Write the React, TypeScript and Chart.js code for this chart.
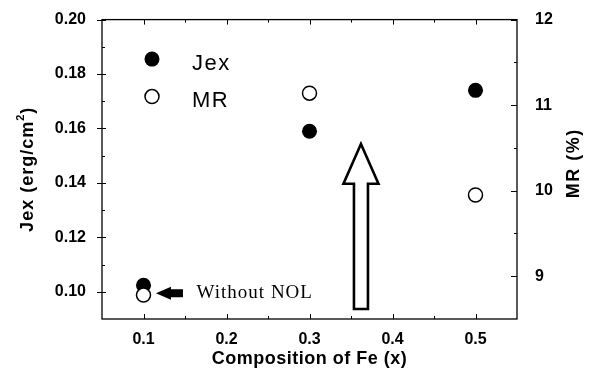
import React, { useEffect, useRef } from "react";
import { Chart, registerables } from "chart.js";

Chart.register(...registerables);

// ---- data ----
const compositionFe = [0.1, 0.3, 0.5];
const jexValues = [0.1024, 0.159, 0.174];
const mrValues = [8.78, 11.14, 9.95];

// ---- ticks ----
const xTickValues = [0.1, 0.2, 0.3, 0.4, 0.5];
const xMinorTickValues = [0.15, 0.25, 0.35, 0.45];
const jexTickValues = [0.1, 0.12, 0.14, 0.16, 0.18, 0.2];
const jexMinorTickValues = [0.11, 0.13, 0.15, 0.17, 0.19];
const mrTickValues = [9, 10, 11, 12];
const mrMinorTickValues = [9.5, 10.5, 11.5];

// ---- text ----
const seriesNames = ["Jex", "MR"];
const xAxisTitle = "Composition of Fe (x)";
const jexAxisTitle = ["Jex (erg/cm", "2", ")"];
const mrAxisTitle = "MR (%)";
const noteLabel = "Without NOL";

// ---- annotation anchors (data units: x = composition, y = Jex axis) ----
const noteArrowTip = { x: 0.115, y: 0.0995 };
const noteTextStart = { x: 0.164, y: 0.0995 };
const bigArrow = { x: 0.362, tip: 0.1543, headBase: 0.1397, tail: 0.0937 };

const SANS = "'Liberation Sans', Arial, sans-serif";
const SERIF = "'Liberation Serif', 'Times New Roman', serif";

const decorPlugin = {
  id: "decor",
  afterDraw(chart: any) {
    const { ctx, chartArea: a, scales } = chart;
    const xs = scales.x;
    const ys = scales.y;
    const ys1 = scales.y1;
    ctx.save();

    // frame
    ctx.strokeStyle = "#000";
    ctx.lineWidth = 1.3;
    ctx.strokeRect(a.left, a.top, a.right - a.left, a.bottom - a.top);

    // tick marks
    ctx.lineWidth = 1;
    ctx.beginPath();
    for (const v of xTickValues) {
      const p = Math.round(xs.getPixelForValue(v)) + 0.5;
      ctx.moveTo(p, a.bottom); ctx.lineTo(p, a.bottom - 5);
      ctx.moveTo(p, a.top); ctx.lineTo(p, a.top + 5);
    }
    for (const v of xMinorTickValues) {
      const p = Math.round(xs.getPixelForValue(v)) + 0.5;
      ctx.moveTo(p, a.bottom); ctx.lineTo(p, a.bottom - 3);
      ctx.moveTo(p, a.top); ctx.lineTo(p, a.top + 3);
    }
    for (const v of jexTickValues) {
      const p = Math.round(ys.getPixelForValue(v)) + 0.5;
      ctx.moveTo(a.left - 5, p); ctx.lineTo(a.left + 4, p);
    }
    for (const v of jexMinorTickValues) {
      const p = Math.round(ys.getPixelForValue(v)) + 0.5;
      ctx.moveTo(a.left, p); ctx.lineTo(a.left + 3, p);
    }
    for (const v of mrTickValues) {
      const p = Math.round(ys1.getPixelForValue(v)) + 0.5;
      ctx.moveTo(a.right - 6, p); ctx.lineTo(a.right, p);
    }
    for (const v of mrMinorTickValues) {
      const p = Math.round(ys1.getPixelForValue(v)) + 0.5;
      ctx.moveTo(a.right - 3, p); ctx.lineTo(a.right, p);
    }
    ctx.stroke();

    ctx.fillStyle = "#000";
    const cy = (a.top + a.bottom) / 2;

    // x axis title
    ctx.font = `bold 18px ${SANS}`;
    (ctx as any).letterSpacing = "0.5px";
    ctx.textAlign = "center";
    ctx.textBaseline = "alphabetic";
    ctx.fillText(xAxisTitle, (a.left + a.right) / 2, 364);

    // left axis title with superscript
    ctx.save();
    ctx.translate(28, cy);
    ctx.rotate(-Math.PI / 2);
    (ctx as any).letterSpacing = "1px";
    ctx.textAlign = "left";
    ctx.textBaseline = "middle";
    const mainFont = `bold 18px ${SANS}`;
    const supFont = `bold 11px ${SANS}`;
    ctx.font = mainFont;
    const w0 = ctx.measureText(jexAxisTitle[0]).width;
    const w2 = ctx.measureText(jexAxisTitle[2]).width;
    ctx.font = supFont;
    const w1 = ctx.measureText(jexAxisTitle[1]).width;
    let sx = -(w0 + w1 + w2) / 2;
    ctx.font = mainFont;
    ctx.fillText(jexAxisTitle[0], sx, 0);
    sx += w0;
    ctx.font = supFont;
    ctx.fillText(jexAxisTitle[1], sx, -7);
    sx += w1;
    ctx.font = mainFont;
    ctx.fillText(jexAxisTitle[2], sx, 0);
    ctx.restore();

    // right axis title
    ctx.save();
    ctx.translate(574, cy - 6);
    ctx.rotate(-Math.PI / 2);
    (ctx as any).letterSpacing = "1.5px";
    ctx.font = `bold 18px ${SANS}`;
    ctx.textAlign = "center";
    ctx.textBaseline = "middle";
    ctx.fillText(mrAxisTitle, 0, 0);
    ctx.restore();

    // legend
    const lx = a.left + 50;
    const ly = [a.top + 39.5, a.top + 77];
    ctx.beginPath();
    ctx.arc(lx, ly[0], 7.5, 0, Math.PI * 2);
    ctx.fillStyle = "#000";
    ctx.fill();
    ctx.beginPath();
    ctx.arc(lx, ly[1], 7, 0, Math.PI * 2);
    ctx.fillStyle = "#fff";
    ctx.fill();
    ctx.lineWidth = 1.5;
    ctx.strokeStyle = "#000";
    ctx.stroke();
    ctx.fillStyle = "#000";
    ctx.font = `22px ${SANS}`;
    (ctx as any).letterSpacing = "1.5px";
    ctx.textAlign = "left";
    ctx.textBaseline = "alphabetic";
    ctx.fillText(seriesNames[0], a.left + 90, ly[0] + 10.5);
    ctx.fillText(seriesNames[1], a.left + 90, ly[1] + 10);

    // small filled arrow + note
    const tx = xs.getPixelForValue(noteArrowTip.x);
    const ty = ys.getPixelForValue(noteArrowTip.y);
    ctx.beginPath();
    ctx.moveTo(tx, ty);
    ctx.lineTo(tx + 15, ty - 6.5);
    ctx.lineTo(tx + 15, ty - 4);
    ctx.lineTo(tx + 27, ty - 4);
    ctx.lineTo(tx + 27, ty + 4);
    ctx.lineTo(tx + 15, ty + 4);
    ctx.lineTo(tx + 15, ty + 6.5);
    ctx.closePath();
    ctx.fillStyle = "#000";
    ctx.fill();

    ctx.font = `19px ${SERIF}`;
    (ctx as any).letterSpacing = "1px";
    ctx.textAlign = "left";
    ctx.textBaseline = "alphabetic";
    ctx.fillText(noteLabel, xs.getPixelForValue(noteTextStart.x), ys.getPixelForValue(noteTextStart.y) + 5);

    // big hollow arrow
    const bx = xs.getPixelForValue(bigArrow.x);
    const bTip = ys.getPixelForValue(bigArrow.tip);
    const bHead = ys.getPixelForValue(bigArrow.headBase);
    const bTail = ys.getPixelForValue(bigArrow.tail);
    ctx.beginPath();
    ctx.moveTo(bx, bTip);
    ctx.lineTo(bx + 17.5, bHead);
    ctx.lineTo(bx + 7, bHead);
    ctx.lineTo(bx + 7, bTail);
    ctx.lineTo(bx - 7, bTail);
    ctx.lineTo(bx - 7, bHead);
    ctx.lineTo(bx - 17.5, bHead);
    ctx.closePath();
    ctx.fillStyle = "#fff";
    ctx.fill();
    ctx.lineWidth = 2.6;
    ctx.lineJoin = "miter";
    ctx.strokeStyle = "#000";
    ctx.stroke();

    ctx.restore();
  },
};

export default function App() {
  const canvasRef = useRef<HTMLCanvasElement | null>(null);

  useEffect(() => {
    document.body.style.margin = "0";
    const canvas = canvasRef.current;
    if (!canvas) return;

    const jexPoints = compositionFe.map((x, i) => ({ x, y: jexValues[i] }));
    const mrPoints = compositionFe.map((x, i) => ({ x, y: mrValues[i] }));

    const tickFont = { family: SANS, size: 16, weight: "bold" as const };

    const chart = new Chart(canvas, {
      type: "scatter",
      data: {
        datasets: [
          {
            label: seriesNames[0],
            data: jexPoints,
            yAxisID: "y",
            order: 1,
            pointRadius: 7.5,
            pointBackgroundColor: "#000",
            pointBorderColor: "#000",
            pointBorderWidth: 0,
            showLine: false,
          },
          {
            label: seriesNames[1],
            data: mrPoints,
            yAxisID: "y1",
            order: 0,
            pointRadius: 7,
            pointBackgroundColor: "#fff",
            pointBorderColor: "#000",
            pointBorderWidth: 1.5,
            showLine: false,
          },
        ],
      },
      options: {
        responsive: false,
        animation: false,
        devicePixelRatio: 1,
        layout: { padding: { top: 15, left: 0, right: 0, bottom: 0 } },
        plugins: {
          legend: { display: false },
          tooltip: { enabled: false },
        },
        scales: {
          x: {
            type: "linear",
            position: "bottom",
            min: 0.05,
            max: 0.55,
            grid: { display: false },
            border: { display: false },
            afterBuildTicks: (s: any) => {
              s.ticks = xTickValues.map((v) => ({ value: v }));
            },
            afterFit: (s: any) => {
              s.height = 60;
            },
            ticks: {
              color: "#000",
              font: tickFont,
              padding: 3,
              maxRotation: 0,
              autoSkip: false,
              callback: (v: any) => Number(v).toFixed(1),
            },
          },
          y: {
            type: "linear",
            position: "left",
            min: 0.09,
            max: 0.2,
            grid: { display: false },
            border: { display: false },
            afterBuildTicks: (s: any) => {
              s.ticks = jexTickValues.map((v) => ({ value: v }));
            },
            afterFit: (s: any) => {
              s.width = 102;
            },
            ticks: {
              color: "#000",
              font: tickFont,
              padding: 8,
              autoSkip: false,
              callback: (v: any) => Number(v).toFixed(2),
            },
          },
          y1: {
            type: "linear",
            position: "right",
            min: 8.5,
            max: 12,
            grid: { display: false },
            border: { display: false },
            afterBuildTicks: (s: any) => {
              s.ticks = mrTickValues.map((v) => ({ value: v }));
            },
            afterFit: (s: any) => {
              s.width = 72;
            },
            ticks: {
              color: "#000",
              font: tickFont,
              padding: 10,
              autoSkip: false,
              callback: (v: any) => String(Number(v)),
            },
          },
        },
      },
      plugins: [decorPlugin],
    });

    return () => chart.destroy();
  }, []);

  return (
    <div style={{ position: "absolute", left: 0, top: 0, width: 589, height: 379, background: "#fff" }}>
      <canvas ref={canvasRef} width={589} height={379} style={{ display: "block" }} />
    </div>
  );
}
